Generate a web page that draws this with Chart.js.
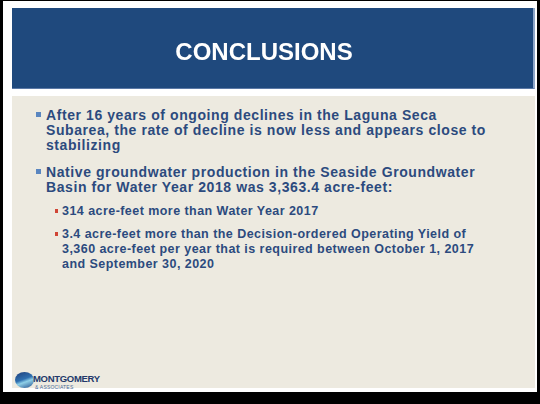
<!DOCTYPE html>
<html lang="en">
<head>
    <meta charset="UTF-8">
    <title>Conclusions</title>
    <script src="https://cdn.jsdelivr.net/npm/chart.js"></script>
    <style>
        html, body {
            margin: 0;
            padding: 0;
            width: 540px;
            height: 404px;
            overflow: hidden;
            background: #000;
        }

        .slide {
            position: absolute;
            left: 3px;
            top: 1px;
            width: 534px;
            height: 391px;
            background: #fff;
        }

        .header {
            position: absolute;
            left: 9px;
            top: 7px;
            width: 521px;
            height: 80px;
            background: #1f497d;
            border-right: 2px solid #8ea6c8;
            border-bottom: 1px solid #5b79a6;
        }

        .header canvas {
            width: 521px !important;
            height: 80px !important;
        }

        .content {
            position: absolute;
            left: 9px;
            top: 95px;
            width: 523px;
            height: 292px;
            background: #edeae0;
        }

        ul {
            list-style: none;
            margin: 0;
            padding: 0;
            font-family: "Liberation Sans", Arial, sans-serif;
            font-weight: bold;
            color: #2c4a7e;
            white-space: nowrap;
        }

        .main {
            position: absolute;
            left: 34px;
            top: 12px;
            width: 480px;
        }

        .main > li {
            position: relative;
            font-size: 14px;
            line-height: 15px;
            letter-spacing: 0.58px;
            margin-bottom: 12px;
        }

        .main > li::before {
            content: "";
            position: absolute;
            left: -10px;
            top: 4px;
            width: 5px;
            height: 5px;
            background: #5a86c0;
        }

        .sub {
            margin-top: 9px;
        }

        .sub li {
            position: relative;
            font-size: 12.5px;
            line-height: 15px;
            letter-spacing: 0.45px;
            margin-left: 16px;
            margin-bottom: 8px;
        }

        .sub li::before {
            content: "";
            position: absolute;
            left: -7px;
            top: 5px;
            width: 3px;
            height: 4px;
            background: #d04535;
        }

        .logo {
            position: absolute;
            left: 3px;
            top: 276px;
            width: 120px;
            height: 20px;
        }

        .logo .mark {
            position: absolute;
            left: 0;
            top: 0;
            width: 19px;
            height: 16px;
            border-radius: 50%;
            background: linear-gradient(160deg, #1f3f7a 0%, #2e6fb0 45%, #8fd0e8 60%, #1f4a8a 100%);
        }

        .logo .name {
            position: absolute;
            left: 18px;
            top: 1px;
            font-family: "Liberation Sans", Arial, sans-serif;
            font-weight: bold;
            font-size: 9.5px;
            color: #23396b;
            letter-spacing: -0.3px;
        }

        .logo .assoc {
            position: absolute;
            left: 20px;
            top: 12px;
            font-family: "Liberation Sans", Arial, sans-serif;
            font-size: 5px;
            color: #4a6a9a;
            letter-spacing: 0.2px;
        }
    </style>
</head>
<body>
    <div class="slide">
        <div class="header"><canvas id="titleChart" width="521" height="80"></canvas></div>
        <div class="content">
            <ul class="main" id="bullets"></ul>
            <div class="logo">
                <div class="mark"></div>
                <div class="name">MONTGOMERY</div>
                <div class="assoc">&amp; ASSOCIATES</div>
            </div>
        </div>
    </div>

    <script>
        const slideTitle = "CONCLUSIONS";

        // each bullet kept as its wrapped lines, as on the slide
        const mainPoints = [
            ["After 16 years of ongoing declines in the Laguna Seca",
             "Subarea, the rate of decline is now less and appears close to",
             "stabilizing"],
            ["Native groundwater production in the Seaside Groundwater",
             "Basin for Water Year 2018 was 3,363.4 acre-feet:"]
        ];

        const subPoints = [
            ["314 acre-feet more than Water Year 2017"],
            ["3.4 acre-feet more than the Decision-ordered Operating Yield of",
             "3,360 acre-feet per year that is required between October 1, 2017",
             "and September 30, 2020"]
        ];

        function addLines(li, lines) {
            lines.forEach((line, k) => {
                if (k > 0) li.appendChild(document.createElement("br"));
                li.appendChild(document.createTextNode(line));
            });
        }

        const list = document.getElementById("bullets");
        mainPoints.forEach((lines, i) => {
            const li = document.createElement("li");
            addLines(li, lines);
            if (i === mainPoints.length - 1) {
                const sub = document.createElement("ul");
                sub.className = "sub";
                subPoints.forEach(s => {
                    const sli = document.createElement("li");
                    addLines(sli, s);
                    sub.appendChild(sli);
                });
                li.appendChild(sub);
            }
            list.appendChild(li);
        });

        // header title drawn by Chart.js title plugin on an empty chart
        new Chart(document.getElementById("titleChart"), {
            type: "bar",
            data: { labels: [], datasets: [] },
            options: {
                responsive: false,
                animation: false,
                layout: { padding: { left: 0, right: 17, top: 0, bottom: 0 } },
                scales: { x: { display: false }, y: { display: false } },
                plugins: {
                    legend: { display: false },
                    tooltip: { enabled: false },
                    title: {
                        display: true,
                        text: slideTitle,
                        color: "#ffffff",
                        font: { family: "Liberation Sans", size: 24, weight: "bold" },
                        padding: { top: 31, bottom: 0 }
                    }
                }
            }
        });
    </script>
</body>
</html>
